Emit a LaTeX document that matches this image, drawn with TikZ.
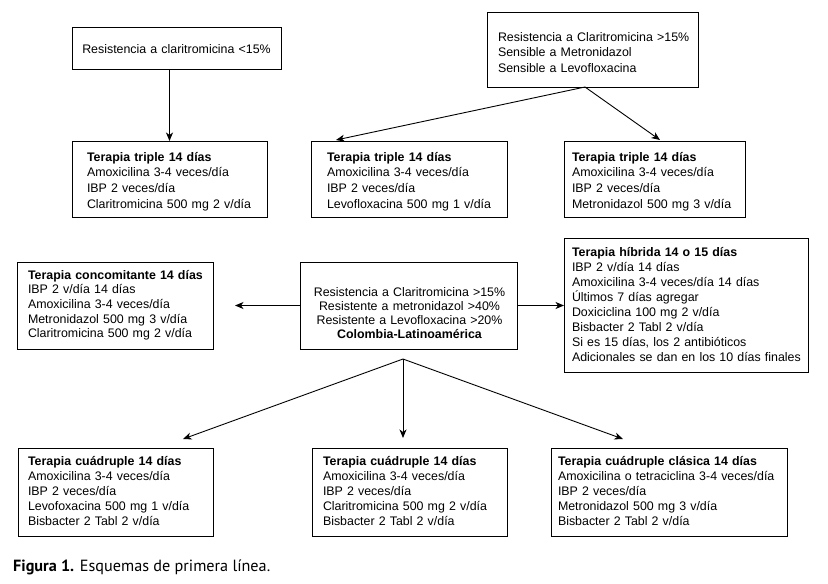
\documentclass[tikz,border=0pt]{standalone}
\usepackage{fontspec}
\setmainfont{Liberation Sans}
\newfontfamily\capfont{PT Sans}
\usetikzlibrary{arrows.meta,calc}
\begin{document}
\begin{tikzpicture}[x=1pt,y=-1pt,
  box/.style={draw,rectangle,line width=0.9pt,inner sep=0pt,outer sep=0pt,anchor=north west},
  txt/.style={inner sep=0pt,outer sep=0pt,anchor=base west,align=left,text width=250pt},
  arr/.style={line width=0.9pt,-{Stealth[length=8.5pt,width=7pt,inset=2.5pt]}}]
\useasboundingbox[fill=white] (0,0) rectangle (828,584);
% boxes
\node[box,minimum width=209pt,minimum height=42pt] (a) at (72,27) {};
\node[box,minimum width=211pt,minimum height=75pt] (b) at (487,12) {};
\node[box,minimum width=195pt,minimum height=76pt] (t1) at (72,141) {};
\node[box,minimum width=196pt,minimum height=76pt] (t2) at (311,141) {};
\node[box,minimum width=181pt,minimum height=76pt] (t3) at (564,141) {};
\node[box,minimum width=196pt,minimum height=87pt] (conc) at (17,262) {};
\node[box,minimum width=217pt,minimum height=87pt] (c) at (300,262) {};
\node[box,minimum width=244pt,minimum height=134pt] (hyb) at (564,238) {};
\node[box,minimum width=195pt,minimum height=88pt] (q1) at (18,448) {};
\node[box,minimum width=195pt,minimum height=88pt] (q2) at (312,448) {};
\node[box,minimum width=236pt,minimum height=88pt] (q3) at (551,448) {};
% texts
\node[txt,anchor=base,align=center,text width=205pt,font=\fontsize{12.4}{15}\selectfont] (atx) at (176.5,53) {Resistencia a claritromicina <15\%};
\node[txt,font=\fontsize{12.4}{15.5}\selectfont] (btx) at (498,41) {Resistencia a Claritromicina >15\%\\Sensible a Metronidazol\\Sensible a Levofloxacina};
\node[txt,font=\fontsize{12.4}{15.7}\selectfont] (t1tx) at (87,161) {\textbf{Terapia triple 14 días}\\Amoxicilina 3-4 veces/día\\IBP 2 veces/día\\Claritromicina 500 mg 2 v/día};
\node[txt,font=\fontsize{12.4}{15.7}\selectfont] (t2tx) at (327,161) {\textbf{Terapia triple 14 días}\\Amoxicilina 3-4 veces/día\\IBP 2 veces/día\\Levofloxacina 500 mg 1 v/día};
\node[txt,font=\fontsize{12.4}{15.7}\selectfont] (t3tx) at (572,161) {\textbf{Terapia triple 14 días}\\Amoxicilina 3-4 veces/día\\IBP 2 veces/día\\Metronidazol 500 mg 3 v/día};
\node[txt,font=\fontsize{12.4}{14.7}\selectfont] (conctx) at (28,279) {\textbf{Terapia concomitante 14 días}\\IBP 2 v/día 14 días\\Amoxicilina 3-4 veces/día\\Metronidazol 500 mg 3 v/día\\Claritromicina 500 mg 2 v/día};
\node[txt,anchor=base,align=center,text width=215pt,font=\fontsize{12.4}{14}\selectfont] (ctx) at (409.5,296) {Resistencia a Claritromicina >15\%\\Resistente a metronidazol >40\%\\Resistente a Levofloxacina >20\%\\\textbf{Colombia-Latinoamérica}};
\node[txt,font=\fontsize{12.4}{15}\selectfont] (hybtx) at (572,256) {\textbf{Terapia híbrida 14 o 15 días}\\IBP 2 v/día 14 días\\Amoxicilina 3-4 veces/día 14 días\\Últimos 7 días agregar\\Doxiciclina 100 mg 2 v/día\\Bisbacter 2 Tabl 2 v/día\\Si es 15 días, los 2 antibióticos\\Adicionales se dan en los 10 días finales};
\node[txt,font=\fontsize{12.4}{15.1}\selectfont] (q1tx) at (28,465) {\textbf{Terapia cuádruple 14 días}\\Amoxicilina 3-4 veces/día\\IBP 2 veces/día\\Levofoxacina 500 mg 1 v/día\\Bisbacter 2 Tabl 2 v/día};
\node[txt,font=\fontsize{12.4}{15.1}\selectfont] (q2tx) at (323,465) {\textbf{Terapia cuádruple 14 días}\\Amoxicilina 3-4 veces/día\\IBP 2 veces/día\\Claritromicina 500 mg 2 v/día\\Bisbacter 2 Tabl 2 v/día};
\node[txt,font=\fontsize{12.4}{15.1}\selectfont] (q3tx) at (558,465) {\textbf{Terapia cuádruple clásica 14 días}\\Amoxicilina o tetraciclina 3-4 veces/día\\IBP 2 veces/día\\Metronidazol 500 mg 3 v/día\\Bisbacter 2 Tabl 2 v/día};
\node[inner sep=0pt,anchor=base west,font=\capfont\fontsize{16.2}{18}\selectfont] (cap) at (13,571) {\textbf{Figura 1.} Esquemas de primera línea.};
% connectors
\coordinate (bs) at ($(b.south)+(-7.5,0)$);
\coordinate (t2in) at ($(t2.north west)+(25,-1)$);
\coordinate (t3in) at ($(t3.north)+(5.5,-1)$);
\coordinate (cs) at ($(c.south)+(-5.5,10)$);
\coordinate (q1in) at ($(q1.north west)+(165,-9)$);
\coordinate (q2in) at ($(q2.north west)+(91,-10)$);
\coordinate (q3in) at ($(q3.north west)+(72,-9)$);
\draw[arr] (a.south -| t1.north) -- (t1.north);
\draw[arr] (bs) -- (t2in);
\draw[arr] (bs) -- (t3in);
\draw[arr,shorten >=22pt] (c.west) -- (conc.east);
\draw[arr] (c.east) -- (hyb.west |- c.east);
\draw[arr] (cs) -- (q1in);
\draw[arr] (cs) -- (q2in);
\draw[arr] (cs) -- (q3in);
\end{tikzpicture}
\end{document}
